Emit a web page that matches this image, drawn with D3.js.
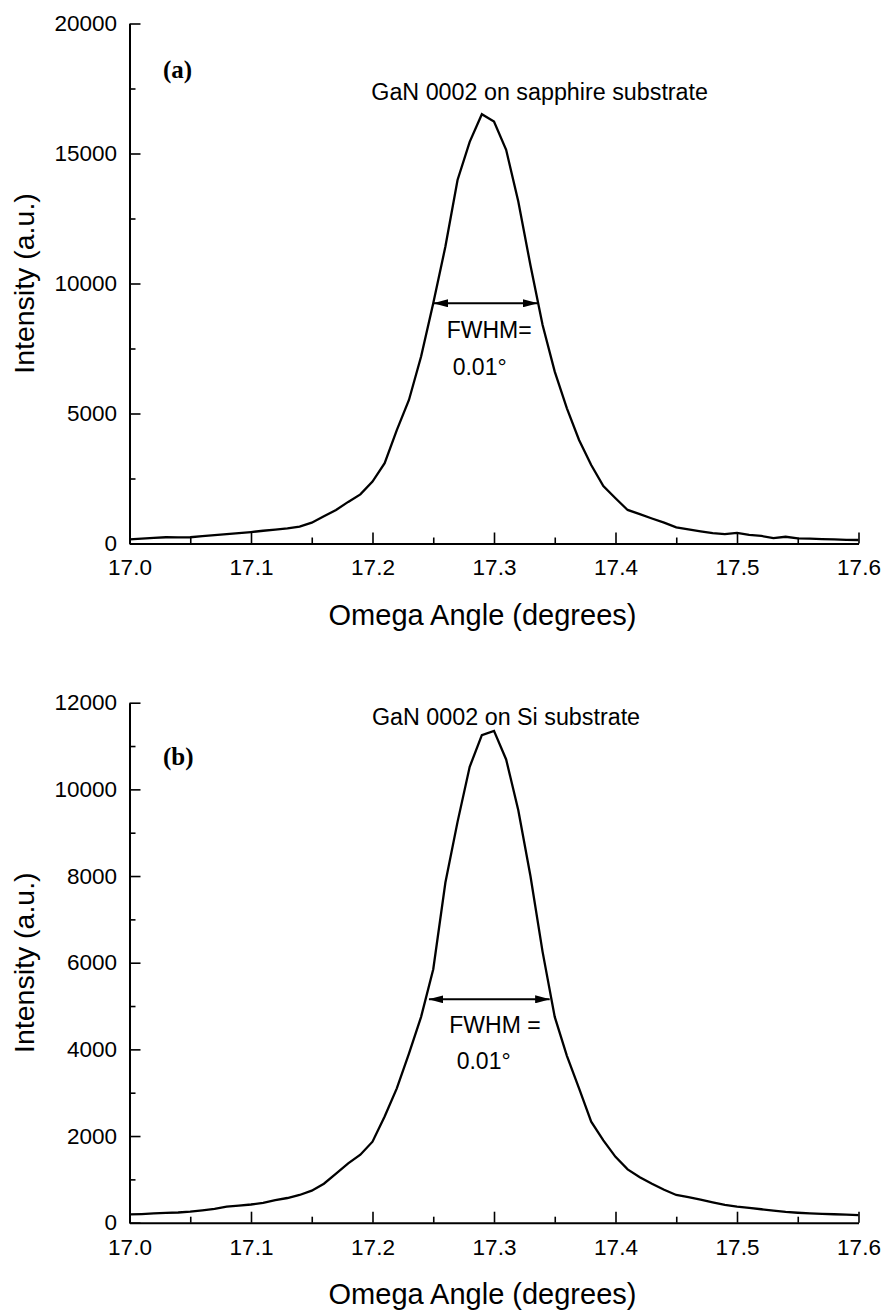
<!DOCTYPE html>
<html>
<head>
<meta charset="utf-8">
<script src="https://cdn.jsdelivr.net/npm/d3@7"></script>
<style>
  html, body { margin: 0; padding: 0; background: #fff; }
  svg { display: block; }
  text { font-family: "Liberation Sans", Arial, Helvetica, sans-serif; fill: #000; }
</style>
</head>
<body>
<svg id="fig" width="886" height="1313"></svg>
<script>
// Omega scan positions (degrees)
const omega = [
  17.00, 17.01, 17.02, 17.03, 17.04, 17.05, 17.06, 17.07, 17.08, 17.09,
  17.10, 17.11, 17.12, 17.13, 17.14, 17.15, 17.16, 17.17, 17.18, 17.19,
  17.20, 17.21, 17.22, 17.23, 17.24, 17.25, 17.26, 17.27, 17.28, 17.29,
  17.30, 17.31, 17.32, 17.33, 17.34, 17.35, 17.36, 17.37, 17.38, 17.39,
  17.40, 17.41, 17.42, 17.43, 17.44, 17.45, 17.46, 17.47, 17.48, 17.49,
  17.50, 17.51, 17.52, 17.53, 17.54, 17.55, 17.56, 17.57, 17.58, 17.59,
  17.60
];

// GaN 0002 rocking curve, sapphire substrate (a.u.)
const sapphireCounts = [
  160, 190, 220, 240, 235, 240, 280, 320, 360, 400,
  440, 490, 530, 580, 650, 800, 1050, 1290, 1600, 1890,
  2380, 3090, 4360, 5520, 7190, 9240, 11420, 13980, 15450, 16510,
  16230, 15140, 13150, 10700, 8400, 6610, 5200, 3980, 3020, 2210,
  1740, 1290, 1130, 960, 800, 620, 540, 470, 400, 360,
  410, 330, 290, 210, 260, 200, 185, 170, 160, 140,
  135
];

// GaN 0002 rocking curve, Si substrate (a.u.)
const siliconCounts = [
  190, 200, 215, 225, 235, 255, 285, 320, 370, 395,
  420, 460, 520, 570, 640, 740, 900, 1130, 1370, 1570,
  1870, 2450, 3100, 3900, 4750, 5850, 7850, 9250, 10520, 11250,
  11350, 10690, 9520, 8000, 6250, 4750, 3850, 3100, 2330, 1900,
  1520, 1230, 1050, 900, 760, 640, 590, 530, 470, 410,
  370, 340, 310, 280, 250, 230, 215, 205, 195, 185,
  175
];

// Axis ticks
const xMajorTicks = [17.0, 17.1, 17.2, 17.3, 17.4, 17.5, 17.6];
const xMinorTicks = [17.05, 17.15, 17.25, 17.35, 17.45, 17.55];
const yMajorTicksA = [0, 5000, 10000, 15000, 20000];
const yMinorTicksA = [2500, 7500, 12500, 17500];
const yMajorTicksB = [0, 2000, 4000, 6000, 8000, 10000, 12000];
const yMinorTicksB = [1000, 3000, 5000, 7000, 9000, 11000];

// FWHM arrows: [left angle, right angle, intensity level]
const fwhmArrowA = [17.2503, 17.3358, 9240];
const fwhmArrowB = [17.2465, 17.3458, 5155];

const svg = d3.select("#fig");

// Double-headed arrow marker
svg.append("defs").append("marker")
  .attr("id", "head")
  .attr("markerUnits", "userSpaceOnUse")
  .attr("viewBox", "0 0 15 8")
  .attr("markerWidth", 15)
  .attr("markerHeight", 8)
  .attr("refX", 14.5)
  .attr("refY", 4)
  .attr("orient", "auto-start-reverse")
  .append("path")
  .attr("d", "M0,0 L15,4 L0,8 Z")
  .attr("fill", "#000");

function drawPanel(cfg) {
  const x = d3.scaleLinear().domain([17.0, 17.6]).range([129.5, 858.5]);
  const y = d3.scaleLinear().domain([0, cfg.yMax]).range([cfg.bottom, cfg.top]);
  const g = svg.append("g");

  // x axis: labelled major ticks and unlabelled minor ticks, all pointing inward
  const xAxis = g.append("g")
    .attr("transform", `translate(0,${cfg.bottom})`)
    .call(d3.axisBottom(x).tickValues(xMajorTicks).tickFormat(d3.format(".1f"))
      .tickSize(-11).tickSizeOuter(0).tickPadding(16));
  g.append("g")
    .attr("transform", `translate(0,${cfg.bottom})`)
    .call(d3.axisBottom(x).tickValues(xMinorTicks).tickFormat("")
      .tickSize(-6).tickSizeOuter(0))
    .select(".domain").remove();

  // y axis
  const yAxis = g.append("g")
    .attr("transform", `translate(129.5,0)`)
    .call(d3.axisLeft(y).tickValues(cfg.yMajor).tickFormat(d3.format("d"))
      .tickSize(-11).tickSizeOuter(0).tickPadding(12.5));
  g.append("g")
    .attr("transform", `translate(129.5,0)`)
    .call(d3.axisLeft(y).tickValues(cfg.yMinor).tickFormat("")
      .tickSize(-6).tickSizeOuter(0))
    .select(".domain").remove();

  g.selectAll(".domain").attr("stroke", "#000").attr("stroke-width", 2);
  g.selectAll(".tick line").attr("stroke", "#000").attr("stroke-width", 1.6);
  [xAxis, yAxis].forEach(a => {
    a.attr("font-size", null).attr("font-family", null);
    a.selectAll("text").style("font-size", "22.5px").attr("fill", "#000");
  });

  // rocking curve
  const line = d3.line().x((d, i) => x(omega[i])).y(d => y(d));
  g.append("path")
    .datum(cfg.counts)
    .attr("d", line)
    .attr("fill", "none")
    .attr("stroke", "#000")
    .attr("stroke-width", 2.3)
    .attr("stroke-linejoin", "miter");

  // FWHM arrow
  g.append("line")
    .attr("x1", x(cfg.arrow[0])).attr("x2", x(cfg.arrow[1]))
    .attr("y1", y(cfg.arrow[2])).attr("y2", y(cfg.arrow[2]))
    .attr("stroke", "#000").attr("stroke-width", 2)
    .attr("marker-start", "url(#head)")
    .attr("marker-end", "url(#head)");

  // annotations
  g.append("text")
    .attr("x", x(cfg.fwhmPos[0])).attr("y", y(cfg.fwhmPos[1]))
    .style("font-size", "23px").text(cfg.fwhmText);
  g.append("text")
    .attr("x", x(cfg.valuePos[0])).attr("y", y(cfg.valuePos[1]))
    .style("font-size", "23px").text("0.01°");
  g.append("text")
    .attr("x", x(cfg.titlePos[0])).attr("y", y(cfg.titlePos[1]))
    .style("font-size", "23.3px").text(cfg.title);
  g.append("text")
    .attr("x", x(cfg.tagPos[0])).attr("y", y(cfg.tagPos[1]))
    .style("font-family", "'Liberation Serif', 'Times New Roman', serif")
    .style("font-weight", "bold")
    .style("font-size", "25px").text(cfg.tag);

  // axis titles
  g.append("text")
    .attr("x", 482.5).attr("y", cfg.bottom + 81)
    .attr("text-anchor", "middle")
    .style("font-size", "29px")
    .text("Omega Angle (degrees)");
  g.append("text")
    .attr("transform", `translate(34,${(cfg.top + cfg.bottom) / 2}) rotate(-90)`)
    .attr("text-anchor", "middle")
    .style("font-size", "28.5px")
    .text("Intensity (a.u.)");
}

drawPanel({
  top: 23.5, bottom: 543.5, yMax: 20000,
  yMajor: yMajorTicksA, yMinor: yMinorTicksA,
  counts: sapphireCounts, arrow: fwhmArrowA,
  fwhmText: "FWHM=", fwhmPos: [17.2611, 7915], valuePos: [17.266, 6481],
  title: "GaN 0002 on sapphire substrate", titlePos: [17.199, 17058],
  tag: "(a)", tagPos: [17.0276, 17904]
});

drawPanel({
  top: 702.7, bottom: 1222.7, yMax: 12000,
  yMajor: yMajorTicksB, yMinor: yMinorTicksB,
  counts: siliconCounts, arrow: fwhmArrowB,
  fwhmText: "FWHM =", fwhmPos: [17.2632, 4385], valuePos: [17.2693, 3547],
  title: "GaN 0002 on Si substrate", titlePos: [17.1996, 11485],
  tag: "(b)", tagPos: [17.0276, 10562]
});
</script>
</body>
</html>
